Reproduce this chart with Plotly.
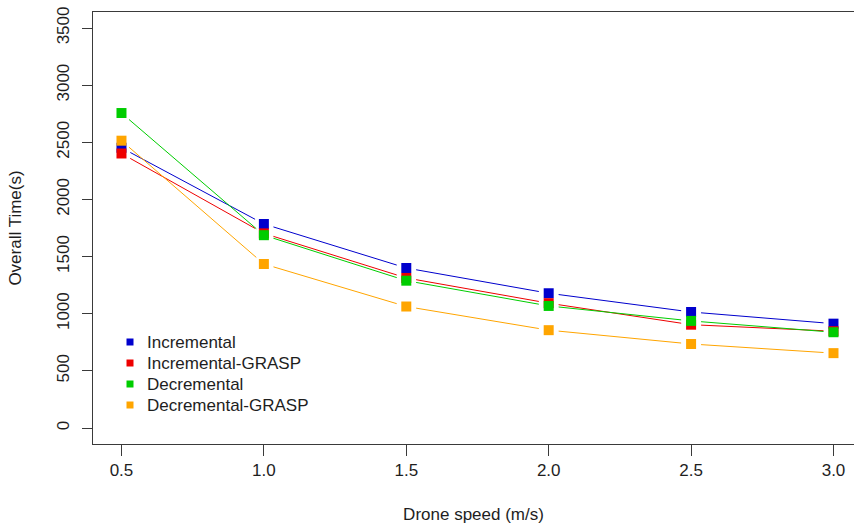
import math
import plotly.graph_objects as go

# Drone speed (m/s) on the x axis
speeds = [0.5, 1.0, 1.5, 2.0, 2.5, 3.0]

# Overall time (s) for each heuristic
incremental = [2452, 1785, 1400, 1179, 1015, 913]
incremental_grasp = [2402, 1703, 1313, 1092, 904, 847]
decremental = [2756, 1687, 1289, 1068, 937, 838]
decremental_grasp = [2514, 1435, 1063, 856, 735, 655]

series_names = ["Incremental", "Incremental-GRASP", "Decremental", "Decremental-GRASP"]
series_values = [incremental, incremental_grasp, decremental, decremental_grasp]
series_colors = ["#0000CD", "#EE0000", "#00CD00", "#FFA500"]

x_tick_vals = [0.5, 1.0, 1.5, 2.0, 2.5, 3.0]
x_tick_text = ["0.5", "1.0", "1.5", "2.0", "2.5", "3.0"]
y_tick_vals = [0, 500, 1000, 1500, 2000, 2500, 3000, 3500]

W, H = 854, 527
M_L, M_R, M_T, M_B = 93, 0, 12, 83
X_RANGE = [0.4, 3.072]
Y_RANGE = [-140, 3640]
FONT = "Liberation Sans, Arial, sans-serif"
FS = 17
TEXT = "#1e1e1e"
AXIS = "#3a3a3a"

plot_w = W - M_L - M_R
plot_h = H - M_T - M_B
sx = plot_w / (X_RANGE[1] - X_RANGE[0])
sy = plot_h / (Y_RANGE[1] - Y_RANGE[0])


def gapped_segments(xs, ys, gap=10.0):
    """Connect consecutive points, leaving a gap (in pixels) around each point."""
    gx, gy = [], []
    for (x0, y0), (x1, y1) in zip(zip(xs, ys), zip(xs[1:], ys[1:])):
        dx = (x1 - x0) * sx
        dy = (y1 - y0) * sy
        length = math.hypot(dx, dy)
        t = gap / length
        gx += [x0 + t * (x1 - x0), x1 - t * (x1 - x0), None]
        gy += [y0 + t * (y1 - y0), y1 - t * (y1 - y0), None]
    return gx, gy


fig = go.Figure()

for name, values, color in zip(series_names, series_values, series_colors):
    lx, ly = gapped_segments(speeds, values)
    fig.add_trace(go.Scatter(
        x=lx, y=ly, mode="lines",
        line=dict(color=color, width=1),
        showlegend=False, hoverinfo="skip",
    ))
    fig.add_trace(go.Scatter(
        x=speeds, y=values, mode="markers", name=name,
        marker=dict(symbol="square", size=10, color=color, line=dict(width=0)),
        showlegend=False,
    ))

# Legend box in the lower left of the plot area (pixel layout -> paper coords)
LEG_KEY_X = 130      # centre of the key squares
LEG_TEXT_X = 145     # left edge of the labels
LEG_TOP_Y = 342      # centre of the first entry
LEG_STEP = 21        # spacing between entries
KEY_HALF = 3.5


def px_to_paper_x(px):
    return (px - M_L) / plot_w


def px_to_paper_y(py):
    return (H - M_B - py) / plot_h


shapes = []
annotations = []
for i, (name, color) in enumerate(zip(series_names, series_colors)):
    cy = LEG_TOP_Y + i * LEG_STEP
    shapes.append(dict(
        type="rect", xref="paper", yref="paper",
        x0=px_to_paper_x(LEG_KEY_X - KEY_HALF), x1=px_to_paper_x(LEG_KEY_X + KEY_HALF),
        y0=px_to_paper_y(cy + KEY_HALF), y1=px_to_paper_y(cy - KEY_HALF),
        fillcolor=color, line=dict(width=0),
    ))
    annotations.append(dict(
        xref="paper", yref="paper",
        x=px_to_paper_x(LEG_TEXT_X), y=px_to_paper_y(cy),
        xanchor="left", yanchor="middle", showarrow=False,
        text=name, font=dict(family=FONT, size=FS, color=TEXT),
    ))

fig.update_layout(
    width=W, height=H,
    margin=dict(l=M_L, r=M_R, t=M_T, b=M_B),
    paper_bgcolor="white", plot_bgcolor="white",
    font=dict(family=FONT, size=FS, color=TEXT),
    showlegend=False,
    shapes=shapes,
    annotations=annotations,
    xaxis=dict(
        range=X_RANGE, tickvals=x_tick_vals, ticktext=x_tick_text,
        showgrid=False, zeroline=False,
        showline=True, mirror=True, linecolor=AXIS, linewidth=1,
        ticks="outside", ticklen=11, tickcolor=AXIS, tickwidth=1,
        tickfont=dict(family=FONT, size=FS, color=TEXT),
        title=dict(text="Drone speed (m/s)", standoff=28,
                   font=dict(family=FONT, size=FS, color=TEXT)),
    ),
    yaxis=dict(
        range=Y_RANGE, tickvals=y_tick_vals,
        showgrid=False, zeroline=False,
        showline=True, mirror=False, linecolor=AXIS, linewidth=1,
        ticks="outside", ticklen=10, tickcolor=AXIS, tickwidth=1,
        tickangle=-90, ticklabelstandoff=6,
        tickfont=dict(family=FONT, size=FS, color=TEXT),
        title=dict(text="Overall Time(s)", standoff=28,
                   font=dict(family=FONT, size=FS, color=TEXT)),
    ),
)

fig.write_html("out.html")
